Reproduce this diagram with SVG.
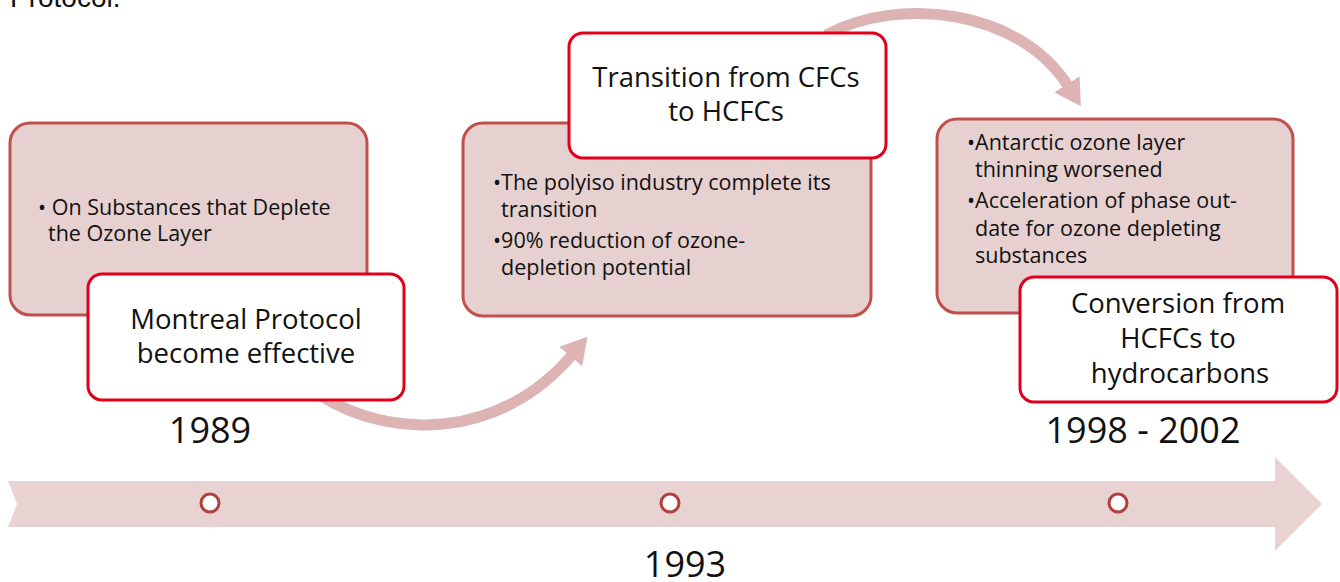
<svg xmlns="http://www.w3.org/2000/svg" width="1340" height="582" viewBox="0 0 1340 582">
<style>
.bg{fill:#ffffff}
.pink{fill:#E6D0D0;stroke:#C0504D;stroke-width:3}
.red{fill:#ffffff;stroke:#E0001B;stroke-width:3}
.body{font-family:"Open Sans","Liberation Sans",sans-serif;font-size:21.5px;fill:#111}
.title{font-family:"Open Sans","Liberation Sans",sans-serif;font-size:27.5px;fill:#111;text-anchor:middle}
.year{font-family:"Open Sans","Liberation Sans",sans-serif;font-size:36px;fill:#111;text-anchor:middle}
.arc{fill:none;stroke:#DDB3B3;stroke-width:11}
.dot{fill:#ffffff;stroke:#B0413E;stroke-width:3}
</style>
<defs>
<marker id="head" viewBox="0 0 26 30" refX="2" refY="15" markerWidth="26" markerHeight="30" markerUnits="userSpaceOnUse" orient="auto">
<path d="M0,0 L26,15 L0,30 z" fill="#DDB3B3"/>
</marker>
</defs>
<rect class="bg" x="0" y="0" width="1340" height="582"/>
<text x="10" y="7" font-family="Liberation Sans, Arial, sans-serif" font-size="28" fill="#111">Protocol.</text>

<g id="timeline">
<path d="M8,481 L1275,481 L1275,457 L1322,504 L1275,551 L1275,527 L8,527 L17,504 z" fill="#E8D2D2"/>
<circle class="dot" cx="210" cy="503" r="9"/>
<circle class="dot" cx="670" cy="503" r="9"/>
<circle class="dot" cx="1118" cy="503" r="9"/>
</g>

<g id="connectors">
<path class="arc" d="M320,395 C390,440 500,440 572,355" marker-end="url(#head)"/>
<path class="arc" d="M826,35 C900,-5 1020,10 1068,86" marker-end="url(#head)"/>
</g>

<g id="box1">
<rect class="pink" x="10" y="123" width="357" height="192" rx="20"/>
<text class="body" x="38" y="215">• On Substances that Deplete</text>
<text class="body" x="48" y="241">the Ozone Layer</text>
</g>
<g id="box2">
<rect class="pink" x="463" y="123" width="408" height="193" rx="20"/>
<text class="body" x="493" y="190">•The polyiso industry complete its</text>
<text class="body" x="501" y="217">transition</text>
<text class="body" x="493" y="248">•90% reduction of ozone-</text>
<text class="body" x="501" y="275">depletion potential</text>
</g>
<g id="box3">
<rect class="pink" x="937" y="119" width="356" height="194" rx="20"/>
<text class="body" x="967" y="150">•Antarctic ozone layer</text>
<text class="body" x="975" y="177">thinning worsened</text>
<text class="body" x="967" y="208">•Acceleration of phase out-</text>
<text class="body" x="975" y="236">date for ozone depleting</text>
<text class="body" x="975" y="263">substances</text>
</g>

<g id="event1">
<rect class="red" x="88" y="274" width="316" height="126" rx="14"/>
<text class="title" x="246" y="329">Montreal Protocol</text>
<text class="title" x="246" y="363">become effective</text>
</g>
<g id="event2">
<rect class="red" x="569" y="33" width="317" height="125" rx="14"/>
<text class="title" x="726" y="87">Transition from CFCs</text>
<text class="title" x="726" y="121">to HCFCs</text>
</g>
<g id="event3">
<rect class="red" x="1020" y="277" width="317" height="125" rx="14"/>
<text class="title" x="1178" y="313">Conversion from</text>
<text class="title" x="1178" y="348">HCFCs to</text>
<text class="title" x="1180" y="383">hydrocarbons</text>
</g>

<g id="years">
<text class="year" x="210" y="443">1989</text>
<text class="year" x="685" y="577">1993</text>
<text class="year" x="1143" y="443">1998 - 2002</text>
</g>
</svg>
